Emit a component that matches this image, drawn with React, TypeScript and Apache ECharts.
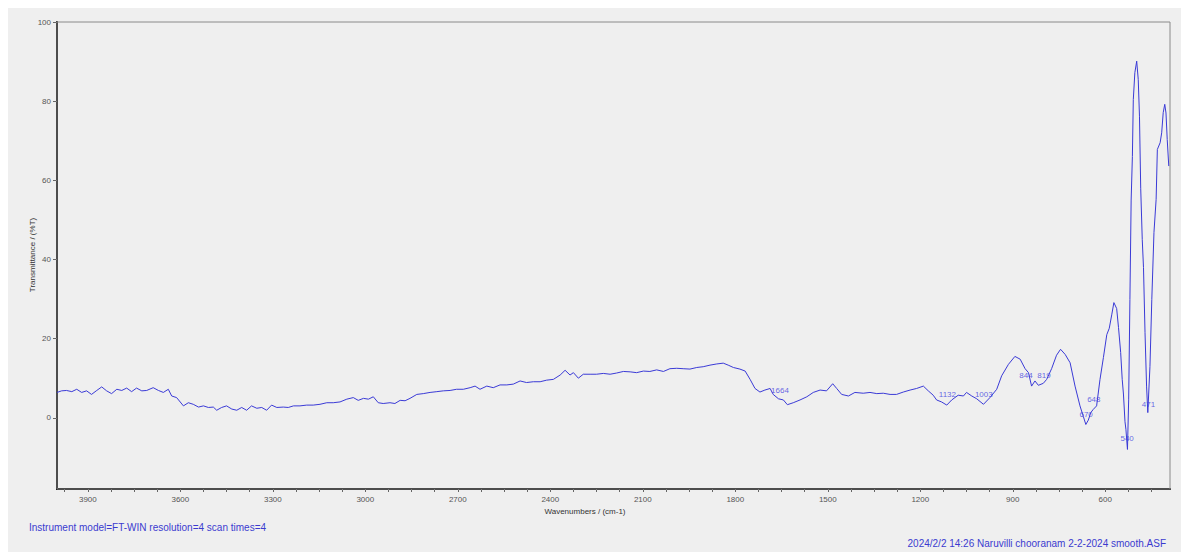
import React, { useEffect, useRef } from "react";
import * as echarts from "echarts";

// Spectrum (wavenumber cm-1, transmittance %T)
const wavenumbers = [
  4000, 3985, 3969, 3952, 3936, 3920, 3904, 3888, 3871, 3855, 3839, 3823, 3806, 3790, 3774, 3758, 3742, 3725, 3709, 3688,
  3671, 3655, 3639, 3628, 3612, 3590, 3574, 3558, 3541, 3525, 3509, 3493, 3482, 3466, 3450, 3433, 3417, 3401, 3385, 3369,
  3352, 3336, 3320, 3304, 3287, 3266, 3250, 3233, 3212, 3190, 3169, 3147, 3125, 3104, 3082,
  3060, 3039, 3023, 3006, 2990, 2974, 2958, 2942, 2920, 2904, 2887, 2871, 2855, 2833, 2812, 2790, 2768, 2747, 2725, 2704,
  2682, 2660, 2644, 2628, 2606, 2585, 2563, 2541, 2520, 2498, 2477, 2455, 2433, 2412, 2390, 2368, 2352, 2336, 2325, 2309,
  2293, 2271, 2250, 2228, 2206, 2185, 2163,
  2141, 2120, 2098, 2077, 2055, 2033, 2012, 1990, 1969, 1947, 1925, 1904, 1882, 1860, 1839, 1823, 1806, 1785, 1768, 1752,
  1736, 1720, 1704, 1687, 1677, 1660, 1644, 1631, 1612, 1590, 1568, 1547, 1525, 1504, 1484, 1471, 1455, 1433, 1412, 1385,
  1363, 1341, 1320, 1298, 1277, 1255, 1233, 1212, 1190,
  1174, 1158, 1147, 1131, 1114, 1098, 1077, 1060, 1050, 1033, 1017, 995, 974, 952, 936, 914, 893, 876, 860, 849,
  839, 828, 817, 801, 790, 774, 758, 745, 730, 714, 698, 682, 671, 663, 655, 647, 639, 628, 617, 606,
  595, 587, 579, 572, 563, 557, 550, 545, 541, 536, 533, 528, 524, 520, 516, 512, 509, 504, 498, 493,
  489, 485, 480, 476, 471, 466, 462, 455, 449, 442, 435, 431, 422, 417, 412, 407, 403, 399, 394,
];
const transmittance = [
  6.4, 6.8, 6.9, 6.6, 7.2, 6.4, 6.8, 5.9, 6.9, 7.8, 6.8, 6.1, 7.2, 6.9, 7.5, 6.6, 7.5, 6.8, 6.9, 7.6,
  6.9, 6.4, 7.2, 5.5, 5.1, 3.0, 3.8, 3.4, 2.7, 3.0, 2.6, 2.7, 1.9, 2.6, 3.0, 2.2, 1.9, 2.6, 1.9, 3.0,
  2.4, 2.6, 1.9, 3.2, 2.6, 2.7, 2.6, 3.0, 3.0, 3.2, 3.2, 3.4, 3.8, 3.8, 4.0,
  4.7, 5.1, 4.4, 4.9, 4.7, 5.3, 3.8, 3.6, 3.8, 3.6, 4.4, 4.3, 4.9, 5.9, 6.1, 6.4, 6.6, 6.8, 6.9, 7.2,
  7.2, 7.6, 8.0, 7.2, 8.0, 7.6, 8.3, 8.3, 8.5, 9.3, 8.9, 9.1, 9.1, 9.5, 9.7, 10.8, 12.0, 10.8, 11.4, 10.0,
  11.0, 11.0, 11.0, 11.2, 11.0, 11.3, 11.7,
  11.6, 11.4, 11.8, 11.7, 12.1, 11.7, 12.4, 12.5, 12.4, 12.3, 12.7, 12.9, 13.3, 13.6, 13.8, 13.3, 12.7, 12.3, 11.8, 9.7,
  7.4, 6.5, 7.0, 7.4, 5.9, 4.8, 4.5, 3.3, 3.8, 4.5, 5.3, 6.4, 7.0, 6.8, 8.6, 7.4, 5.9, 5.5, 6.4, 6.2,
  6.4, 6.1, 6.2, 5.9, 5.9, 6.5, 7.0, 7.4, 8.0,
  6.8, 5.7, 4.5, 4.0, 3.2, 4.5, 5.7, 5.5, 6.4, 5.5, 4.8, 3.4, 5.1, 7.2, 10.6, 13.5, 15.5, 14.8, 12.4, 11.4,
  8.0, 9.3, 8.2, 8.7, 9.7, 12.4, 15.8, 17.3, 16.0, 13.9, 8.0, 3.0, 0.3, -1.7, -0.6, 1.3, 2.1, 3.0, 9.7, 15.2,
  21.0, 22.6, 26.0, 29.1, 27.6, 22.8, 16.5, 9.7, 6.0, -1.0, -2.9, -8.0, 4.7, 29.9, 55.0, 66.0, 80.4, 87.2, 90.1, 85.5,
  76.2, 58.0, 45.0, 38.0, 21.5, 8.0, 1.3, 13.0, 29.9, 46.8, 55.2, 67.8, 69.5, 72.0, 77.1, 79.2, 77.0, 70.3, 63.6,
];

// Peak annotations (text, wavenumber position, %T position)
const peakTexts = ["1664", "1132", "1003", "844", "819", "670", "648", "540", "471"];
const peakWn = [1655, 1112, 994, 857, 799, 662, 637, 529, 460];
const peakT = [7.0, 5.9, 5.9, 10.6, 10.6, 0.9, 4.7, -5.3, 3.4];

const xLabelValues = [3900, 3600, 3300, 3000, 2700, 2400, 2100, 1800, 1500, 1200, 900, 600];
const xTickValues = [
  3975, 3900, 3825, 3750, 3675, 3600, 3525, 3450, 3375, 3300, 3225, 3150, 3075, 3000, 2925, 2850, 2775, 2700, 2625, 2550,
  2475, 2400, 2325, 2250, 2175, 2100, 2025, 1950, 1875, 1800, 1725, 1650, 1575, 1500, 1425, 1350, 1275, 1200, 1125, 1050,
  975, 900, 825, 750, 675, 600, 525, 450,
];
const yLabelValues = [0, 20, 40, 60, 80, 100];

const xAxisTitle = "Wavenumbers / (cm-1)";
const yAxisTitle = "Transmittance / (%T)";
const footerLeft = "Instrument model=FT-WIN resolution=4 scan times=4";
const footerRight = "2024/2/2 14:26 Naruvilli chooranam 2-2-2024 smooth.ASF";

const FONT = "Arial, 'Liberation Sans', sans-serif";

export default function App() {
  const ref = useRef<HTMLDivElement>(null);

  useEffect(() => {
    if (!ref.current) return;
    const chart = echarts.init(ref.current, undefined, { renderer: "svg" });
    const lineData = wavenumbers.map((w, i) => [w, transmittance[i]]);
    const peakData = peakTexts.map((t, i) => ({ name: t, value: [peakWn[i], peakT[i]] }));

    chart.setOption({
      animation: false,
      backgroundColor: "#ffffff",
      textStyle: { fontFamily: FONT },
      grid: {
        left: 57,
        top: 22,
        right: 11,
        bottom: 63,
        show: true,
        borderColor: "#8a8a8a",
        borderWidth: 1,
        backgroundColor: "transparent",
        z: 1,
      },
      xAxis: {
        type: "value",
        inverse: true,
        min: 390,
        max: 4000,
        splitLine: { show: false },
        axisLine: { show: true, onZero: false, lineStyle: { color: "#111", width: 2 } },
        axisTick: { show: true, length: 3, customValues: xTickValues, lineStyle: { color: "#666" } },
        axisLabel: {
          customValues: xLabelValues,
          formatter: (v: number) => String(v),
          fontSize: 8,
          color: "#555",
          margin: 6,
          fontFamily: FONT,
        },
      },
      yAxis: {
        type: "value",
        min: -18,
        max: 100,
        splitLine: { show: false },
        axisLine: { show: true, onZero: false, lineStyle: { color: "#111", width: 2 } },
        axisTick: { show: true, length: 4, customValues: yLabelValues, lineStyle: { color: "#666" } },
        axisLabel: {
          customValues: yLabelValues,
          formatter: (v: number) => String(v),
          fontSize: 8,
          color: "#555",
          margin: 6,
          fontFamily: FONT,
        },
      },
      graphic: [
        {
          type: "rect",
          z: -100,
          silent: true,
          shape: { x: 8, y: 8, width: 1173, height: 544 },
          style: { fill: "#efefef" },
        },
        {
          type: "text",
          x: 32,
          y: 255,
          rotation: Math.PI / 2,
          style: {
            text: yAxisTitle,
            fontSize: 8,
            fill: "#333",
            align: "center",
            verticalAlign: "middle",
            fontFamily: FONT,
          },
        },
        {
          type: "text",
          x: 585,
          y: 511,
          style: {
            text: xAxisTitle,
            fontSize: 8,
            fill: "#333",
            align: "center",
            verticalAlign: "middle",
            fontFamily: FONT,
          },
        },
        {
          type: "text",
          x: 29,
          y: 527,
          style: {
            text: footerLeft,
            fontSize: 10,
            fill: "#3b3bcf",
            align: "left",
            verticalAlign: "middle",
            fontFamily: FONT,
          },
        },
        {
          type: "text",
          x: 1166,
          y: 543,
          style: {
            text: footerRight,
            fontSize: 10,
            fill: "#3b3bcf",
            align: "right",
            verticalAlign: "middle",
            fontFamily: FONT,
          },
        },
      ],
      series: [
        {
          type: "line",
          data: lineData,
          showSymbol: false,
          silent: true,
          lineStyle: { color: "#3a3ad6", width: 1 },
          z: 3,
        },
        {
          type: "scatter",
          data: peakData,
          symbolSize: 0,
          silent: true,
          z: 4,
          label: {
            show: true,
            position: "inside",
            formatter: (p: any) => p.name,
            fontSize: 8,
            color: "#3f3fe0",
            fontFamily: FONT,
          },
        },
      ],
    });

    return () => chart.dispose();
  }, []);

  return (
    <div
      ref={ref}
      style={{ position: "fixed", left: 0, top: 0, width: 1181, height: 552 }}
    />
  );
}
